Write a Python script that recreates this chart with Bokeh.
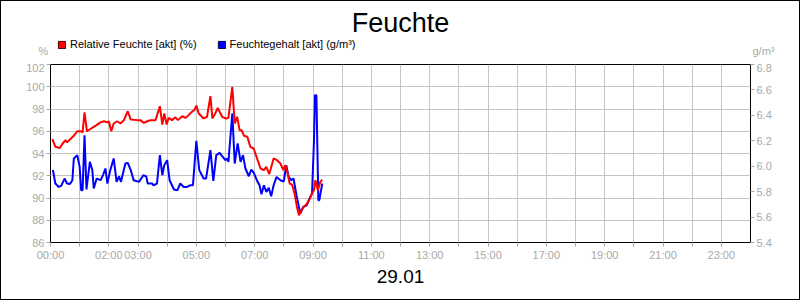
from bokeh.plotting import figure
from bokeh.layouts import column
from bokeh.models import (Range1d, LinearAxis, FixedTicker, Label, Legend,
                          LegendItem, PrintfTickFormatter, ColumnDataSource)
from bokeh.embed import file_html
from bokeh.resources import INLINE

# ---- data (minutes after midnight, 29.01) ----
red_minutes = [4, 10, 19, 25, 31, 34, 41, 48, 55, 62, 66, 70, 75, 82, 93, 103, 110, 117,
               120, 125, 130, 137, 144, 151, 159, 165, 178, 185, 192, 199, 206, 216, 225,
               230, 234, 239, 243, 250, 257, 262, 271, 278, 284, 291, 296, 300, 305, 315,
               322, 329, 333, 339, 344, 353, 360, 366, 374, 379, 384, 389, 393, 398, 405,
               411, 418, 425, 432, 439, 444, 450, 459, 466, 473, 479, 483, 487, 492, 497,
               502, 507, 511, 516, 521, 528, 535, 538, 542, 545, 550, 555, 559]
red_values = [95.3, 94.6, 94.5, 94.9, 95.2, 95.0, 95.3, 95.6, 96.0, 96.0, 95.9, 97.7, 96.0,
              96.2, 96.5, 96.8, 96.9, 96.8, 96.9, 96.0, 96.7, 96.9, 96.7, 97.0, 97.8, 97.05,
              97.0, 97.0, 96.75, 96.9, 97.0, 97.0, 98.25, 96.6, 97.6, 96.6, 97.2, 97.0, 97.25,
              97.0, 97.35, 97.2, 97.45, 97.75, 97.9, 98.3, 97.6, 97.15, 97.3, 99.15, 97.15,
              97.6, 98.1, 97.3, 97.15, 97.2, 100.0, 96.7, 97.3, 96.1, 96.1, 95.6, 95.5, 94.6,
              94.45, 93.55, 92.65, 92.5, 92.8, 92.15, 93.55, 93.4, 93.1, 92.5, 92.95, 92.35,
              91.3, 91.2, 90.4, 89.2, 88.45, 88.9, 89.2, 89.5, 90.1, 90.4, 90.7, 91.6, 90.7,
              91.45, 91.65]

blue_minutes = [5, 10, 17, 22, 29, 34, 40, 45, 48, 55, 60, 63, 66, 70, 74, 81, 86, 89, 95,
                103, 108, 113, 117, 123, 130, 136, 141, 145, 154, 159, 165, 171, 182, 191,
                197, 200, 209, 212, 219, 225, 230, 234, 240, 245, 254, 261, 267, 274, 281,
                288, 293, 300, 306, 315, 320, 329, 335, 341, 348, 353, 360, 364, 366, 374,
                379, 385, 391, 396, 401, 408, 413, 418, 426, 430, 434, 439, 444, 449, 454,
                459, 465, 473, 480, 485, 490, 495, 500, 506, 511, 514, 520, 527, 533, 538,
                542, 544, 547, 551, 553, 559]
blue_values = [5.97, 5.864, 5.837, 5.845, 5.903, 5.864, 5.86, 5.89, 6.061, 6.087, 5.995,
               5.811, 5.811, 6.244, 5.817, 6.034, 5.97, 5.825, 5.903, 5.89, 5.93, 5.982,
               5.864, 5.969, 6.061, 5.877, 5.92, 5.877, 6.021, 6.026, 5.97, 5.89, 5.877,
               5.929, 5.92, 5.864, 5.864, 5.85, 5.864, 6.087, 5.929, 6.008, 6.047, 5.89,
               5.817, 5.811, 5.864, 5.837, 5.837, 5.851, 5.851, 6.199, 5.969, 5.903, 5.903,
               6.126, 5.885, 6.087, 6.105, 6.08, 6.047, 6.06, 6.034, 6.415, 6.021, 6.179,
               6.034, 6.087, 5.982, 5.921, 5.974, 5.95, 5.877, 5.85, 5.78, 5.85, 5.798, 5.83,
               5.764, 5.85, 5.916, 5.89, 5.88, 6.008, 5.916, 5.89, 5.903, 5.772, 5.68, 5.628,
               5.68, 5.693, 5.746, 5.785, 6.2, 6.558, 6.558, 5.733, 5.733, 5.864]

hour_ticks = list(range(0, 24))
labeled_hours = [0, 2, 3, 5, 7, 9, 11, 13, 15, 17, 19, 21, 23]
left_ticks = [86, 88, 90, 92, 94, 96, 98, 100, 102]
right_ticks = [5.4, 5.6, 5.8, 6.0, 6.2, 6.4, 6.6, 6.8]

title_text = "Feuchte"
date_text = "29.01"
red_label = "Relative Feuchte [akt] (%)"
blue_label = "Feuchtegehalt [akt] (g/m³)"
left_unit = "%"
right_unit = "g/m³"

FONT = "Liberation Sans"
GRAY = "#a8a8a8"
GRID = "#c4c4c4"
NAN = float("nan")

# ---------------- header figure (title, legend, units) ----------------
head = figure(width=798, height=62, output_backend="svg", toolbar_location=None,
              x_range=Range1d(0, 1), y_range=Range1d(0, 1), title=None,
              x_axis_type=None, y_axis_type=None,
              min_border_left=0, min_border_right=0, min_border_top=0,
              min_border_bottom=0)
try:
    head.frame_align = False
except Exception:
    pass
head.grid.visible = False
head.outline_line_color = None
head.background_fill_color = "white"
head.border_fill_color = "white"

# legend swatch renderers (no visible geometry, only for the legend key)
r_sw = head.quad(left=[NAN], right=[NAN], top=[NAN], bottom=[NAN],
                 fill_color="#ff0000", line_color="#500000")
b_sw = head.quad(left=[NAN], right=[NAN], top=[NAN], bottom=[NAN],
                 fill_color="#0000ff", line_color="#000050")
legend = Legend(items=[LegendItem(label=red_label, renderers=[r_sw]),
                       LegendItem(label=blue_label, renderers=[b_sw])],
                location=(56, 13), orientation="horizontal",
                glyph_width=9, glyph_height=9, label_height=9, label_standoff=4,
                spacing=20, padding=0, margin=0,
                border_line_color=None, background_fill_color=None,
                label_text_font=FONT, label_text_font_size="11px",
                label_text_color="black")
head.add_layout(legend, "center")

head.add_layout(Label(x=399, y=41, x_units="screen", y_units="screen", text=title_text,
                      text_align="center", text_baseline="alphabetic", text_font=FONT,
                      text_font_size="27px", text_color="black"))
head.add_layout(Label(x=42, y=13, x_units="screen", y_units="screen", text=left_unit,
                      text_align="center", text_baseline="alphabetic", text_font=FONT,
                      text_font_size="11px", text_color=GRAY))
head.add_layout(Label(x=762, y=13, x_units="screen", y_units="screen", text=right_unit,
                      text_align="center", text_baseline="alphabetic", text_font=FONT,
                      text_font_size="11px", text_color=GRAY))

# ---------------- main chart ----------------
p = figure(width=798, height=236, output_backend="svg", toolbar_location=None,
           x_range=Range1d(0, 24), y_range=Range1d(86, 102), title=None,
           min_border_left=49, min_border_right=49, min_border_top=1,
           min_border_bottom=57)
p.background_fill_color = "white"
p.border_fill_color = "white"
p.outline_line_color = "black"
p.outline_line_width = 1

p.extra_y_ranges = {"right": Range1d(5.4, 6.8)}
right_axis = LinearAxis(y_range_name="right", ticker=FixedTicker(ticks=right_ticks),
                        formatter=PrintfTickFormatter(format="%.1f"))
p.add_layout(right_axis, "right")

p.xaxis.ticker = FixedTicker(ticks=hour_ticks)
p.xaxis.major_label_overrides = {h: (f"{h:02d}:00" if h in labeled_hours else "")
                                 for h in hour_ticks}
p.yaxis[0].ticker = FixedTicker(ticks=left_ticks)

for ax in p.axis:
    ax.axis_line_color = None
    ax.major_tick_line_color = GRAY
    ax.major_tick_in = 0
    ax.major_tick_out = 4
    ax.minor_tick_line_color = None
    ax.major_label_text_color = GRAY
    ax.major_label_text_font = FONT
    ax.major_label_text_font_size = "11px"
    ax.major_label_standoff = 2

p.xaxis.axis_label = date_text
p.xaxis.axis_label_text_font = FONT
p.xaxis.axis_label_text_font_size = "19px"
p.xaxis.axis_label_text_font_style = "normal"
p.xaxis.axis_label_text_color = "black"
p.xaxis.axis_label_standoff = 6

p.xgrid.grid_line_color = GRID
p.ygrid.grid_line_color = GRID
p.ygrid.ticker = FixedTicker(ticks=left_ticks)

bsrc = ColumnDataSource(dict(x=[m / 60 for m in blue_minutes], y=blue_values))
rsrc = ColumnDataSource(dict(x=[m / 60 for m in red_minutes], y=red_values))
p.line("x", "y", source=bsrc, line_color="#0000ff", line_width=2, y_range_name="right")
p.line("x", "y", source=rsrc, line_color="#ff0000", line_width=2)

layout = column(head, p, spacing=0, styles={"border": "1px solid black"})

open("out.html", "w").write(file_html(layout, INLINE))
